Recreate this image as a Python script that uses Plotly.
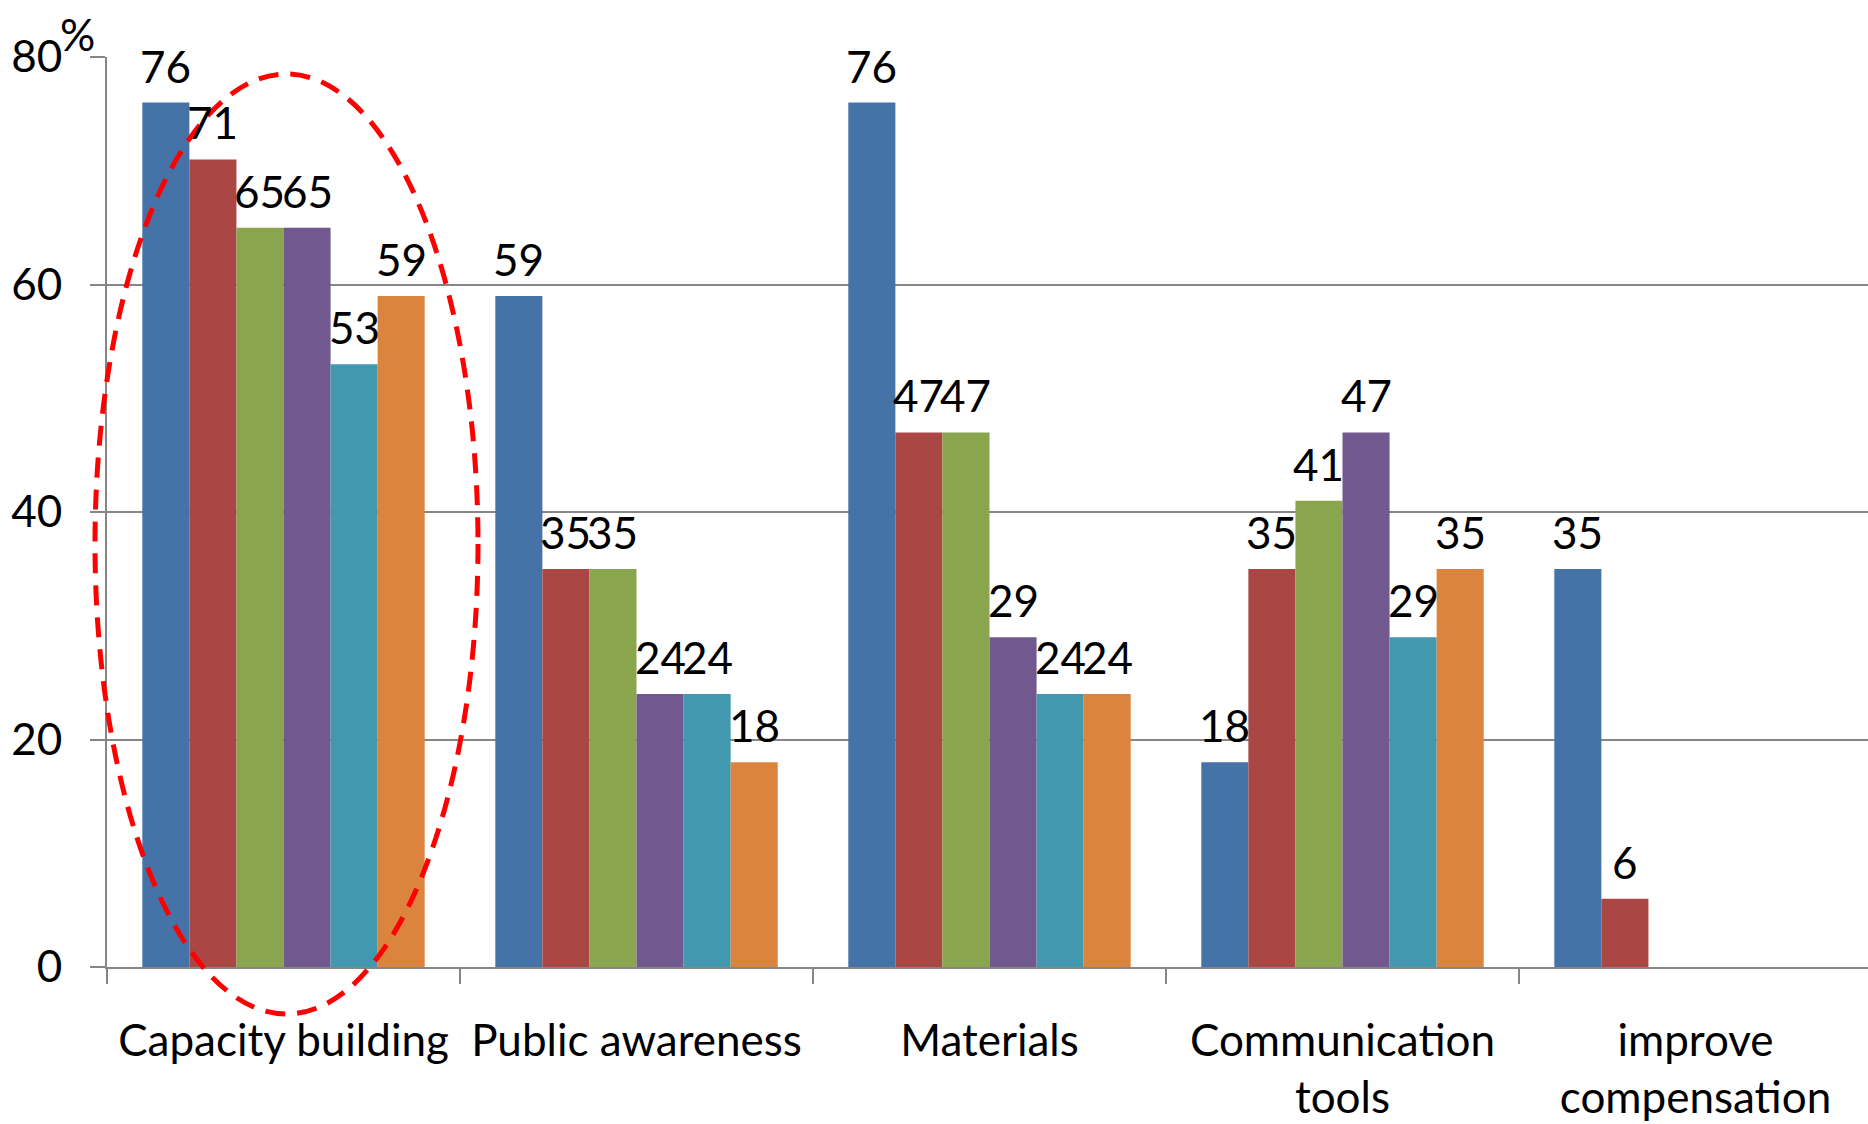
import plotly.graph_objects as go

# ── Data ──────────────────────────────────────────────────────
CATEGORIES = ["Capacity building", "Public awareness", "Materials",
              "Communication<br>tools", "improve<br>compensation"]
SERIES_1 = [76, 59, 76, 18, 35]
SERIES_2 = [71, 35, 47, 35, 6]
SERIES_3 = [65, 35, 47, 41, None]
SERIES_4 = [65, 24, 29, 47, None]
SERIES_5 = [53, 24, 24, 29, None]
SERIES_6 = [59, 18, 24, 35, None]
Y_TICKS = [0, 20, 40, 60, 80]

SERIES = [SERIES_1, SERIES_2, SERIES_3, SERIES_4, SERIES_5, SERIES_6]
COLORS = ["#4572A7", "#AA4643", "#89A54E", "#71588F", "#4198AF", "#DB843D"]

# ── Layout constants ──────────────────────────────────────────
# plot area runs a few px past the right edge of the window, as in the source
W, H = 1872, 1124
ML, MR, MT, MB = 107, 0, 57, 157
FONT = "Lato, 'Liberation Sans', sans-serif"
FS = 44
GRID = "#868686"
BARGAP = 0.2
PLOT_W = W - ML - MR
PLOT_H = H - MT - MB
BAR_W = PLOT_W / len(CATEGORIES) * (1 - BARGAP) / len(SERIES)

fig = go.Figure()
for i, vals in enumerate(SERIES):
    fig.add_trace(go.Bar(
        x=CATEGORIES, y=vals, name=f"Series {i + 1}",
        marker=dict(color=COLORS[i], line=dict(width=0)),
        hovertemplate="%{x}: %{y}<extra></extra>",
    ))

# data labels above each bar
annotations = []
for i, vals in enumerate(SERIES):
    for cat, v in zip(CATEGORIES, vals):
        if v is None:
            continue
        annotations.append(dict(
            x=cat, y=v, text=str(v), showarrow=False,
            xanchor="center", yanchor="bottom",
            xshift=(i - (len(SERIES) - 1) / 2) * BAR_W, yshift=9,
            font=dict(family=FONT, size=FS, color="black"),
        ))

# "%" unit label over the y-axis
annotations.append(dict(
    xref="paper", yref="paper", x=(77 - ML) / PLOT_W, y=(PLOT_H + MT - 34) / PLOT_H,
    text="%", showarrow=False, xanchor="center", yanchor="middle",
    font=dict(family=FONT, size=FS, color="black"),
))

# red dashed ellipse around the first group
fig.add_shape(
    type="circle", xref="paper", yref="paper",
    x0=(95 - ML) / PLOT_W, x1=(478 - ML) / PLOT_W,
    y0=(MT + PLOT_H - 1014) / PLOT_H, y1=(MT + PLOT_H - 74) / PLOT_H,
    line=dict(color="#FF0000", width=5, dash="20px,12px"),
    layer="above",
)

fig.update_layout(
    width=W, height=H,
    margin=dict(l=ML, r=MR, t=MT, b=MB, pad=0),
    paper_bgcolor="white", plot_bgcolor="white",
    font=dict(family=FONT, size=FS, color="black"),
    barmode="group", bargap=BARGAP, bargroupgap=0,
    showlegend=False,
    annotations=annotations,
    xaxis=dict(
        range=[-0.5, 4.5], showgrid=False,
        showline=True, linecolor=GRID, linewidth=2,
        ticks="outside", tickson="boundaries", ticklen=15,
        tickcolor=GRID, tickwidth=2,
        tickfont=dict(family=FONT, size=FS, color="black"),
        ticklabelstandoff=34,
    ),
    yaxis=dict(
        range=[0, 80], tickvals=Y_TICKS,
        showgrid=True, gridcolor=GRID, gridwidth=2, zeroline=False,
        showline=True, linecolor=GRID, linewidth=2,
        ticks="outside", ticklen=15, tickcolor=GRID, tickwidth=2,
        tickfont=dict(family=FONT, size=FS, color="black"),
        ticklabelstandoff=19,
    ),
)

fig.write_html("out.html", config={"displayModeBar": False},
               post_script="document.body.style.margin='0';document.body.style.overflow='hidden';")
